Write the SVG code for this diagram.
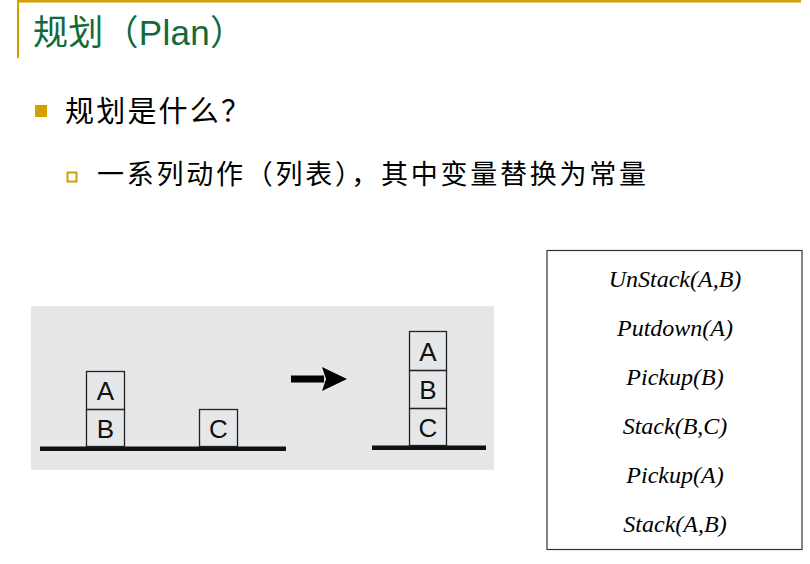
<svg xmlns="http://www.w3.org/2000/svg" width="810" height="564" viewBox="0 0 810 564">
<style>
.gold{fill:#d4a000}
.cjk{font-family:"Noto Sans CJK SC","Noto Sans",sans-serif}
.blk{fill:none;stroke:#222;stroke-width:1.3}
.lbl{font-family:"Liberation Sans",Arial,sans-serif;font-size:26px;fill:#111;text-anchor:middle}
.act{font-family:"Liberation Serif","Times New Roman",serif;font-style:italic;font-size:24px;fill:#000;text-anchor:middle}
</style>
<rect x="0" y="0" width="810" height="564" fill="#fff"/>
<g id="header">
<rect x="18" y="0" width="783" height="2.5" class="gold"/>
<rect x="17" y="0" width="2" height="58" class="gold"/>
<text x="33" y="45" class="cjk" font-size="35" fill="#0f6b3a" textLength="212" lengthAdjust="spacing">规划（<tspan font-family="Liberation Sans, Arial, sans-serif">Plan</tspan>）</text>
</g>
<g id="bullets">
<rect x="35" y="105" width="12" height="12" class="gold"/>
<text x="65" y="122" class="cjk" font-size="29" fill="#000" textLength="185" lengthAdjust="spacing">规划是什么？</text>
<rect x="67.5" y="172.5" width="9" height="9" fill="none" stroke="#d4a000" stroke-width="2"/>
<text x="97" y="184" class="cjk" font-size="27" fill="#000" textLength="549" lengthAdjust="spacing">一系列动作（列表），其中变量替换为常量</text>
</g>
<g id="scene">
<rect x="31" y="306" width="463" height="164" fill="#e6e7e9"/>
<g id="initial">
<rect x="40" y="446.5" width="246" height="4.5" fill="#111"/>
<g id="init-A"><rect x="86.5" y="371.5" width="38" height="38" class="blk"/><text x="105.5" y="400" class="lbl">A</text></g>
<g id="init-B"><rect x="86.5" y="409.5" width="38" height="37" class="blk"/><text x="105.5" y="438" class="lbl">B</text></g>
<g id="init-C"><rect x="199.5" y="409.5" width="38" height="37" class="blk"/><text x="218.5" y="438" class="lbl">C</text></g>
</g>
<g id="connectors">
<rect x="291" y="375.5" width="33" height="7" fill="#000"/>
<polygon points="322,367 347,379 322,391 326,379" fill="#000"/>
</g>
<g id="goal">
<rect x="372" y="445.5" width="114" height="4.5" fill="#111"/>
<g id="goal-A"><rect x="409.5" y="331.5" width="37" height="39" class="blk"/><text x="428" y="361" class="lbl">A</text></g>
<g id="goal-B"><rect x="409.5" y="370.5" width="37" height="38" class="blk"/><text x="428" y="399" class="lbl">B</text></g>
<g id="goal-C"><rect x="409.5" y="408.5" width="37" height="37" class="blk"/><text x="428" y="437" class="lbl">C</text></g>
</g>
</g>
<g id="plan-list">
<rect x="547" y="250.5" width="255" height="299" fill="#fff" stroke="#333" stroke-width="1.2"/>
<text x="675" y="287" class="act">UnStack(A,B)</text>
<text x="675" y="336" class="act">Putdown(A)</text>
<text x="675" y="385" class="act">Pickup(B)</text>
<text x="675" y="434" class="act">Stack(B,C)</text>
<text x="675" y="483" class="act">Pickup(A)</text>
<text x="675" y="532" class="act">Stack(A,B)</text>
</g>
</svg>
